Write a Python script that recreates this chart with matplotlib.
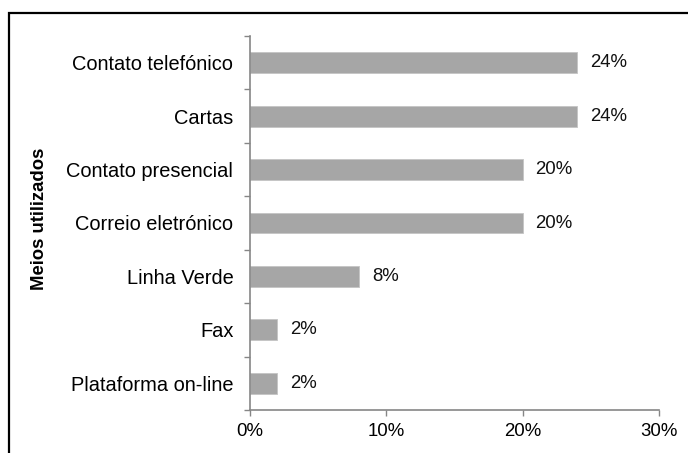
import matplotlib
matplotlib.use("Agg")
import matplotlib.pyplot as plt
from matplotlib.patches import Rectangle
import numpy as np

categories = ["Contato telefónico", "Cartas", "Contato presencial",
              "Correio eletrónico", "Linha Verde", "Fax", "Plataforma on-line"]
values = [24, 24, 20, 20, 8, 2, 2]
xticks = [0, 10, 20, 30]
xtick_labels = ["0%", "10%", "20%", "30%"]
y_title = "Meios utilizados"

plt.rcParams["font.family"] = ["Liberation Sans", "DejaVu Sans"]

W, H = 688, 453
fig = plt.figure(figsize=(W / 100, H / 100), dpi=100)
ax = fig.add_axes([250 / W, 1 - 410 / H, (659 - 250) / W, (410 - 36) / H])

# frame around the chart area
fig.patches.append(Rectangle((9 / W, -0.1), 1.2, 1 - 13 / H + 0.1,
                             transform=fig.transFigure, fill=False,
                             edgecolor="black", linewidth=1.6))

pos = np.arange(len(categories))
ax.barh(pos, values, height=0.39, color="#A6A6A6", edgecolor="#C4C4C4",
        linewidth=0.6, zorder=2)

for p, v in zip(pos, values):
    ax.text(v + 0.95, p, f"{v}%", va="center", ha="left", fontsize=13.4,
            color="#111111")

ax.set_xlim(0, 30)
ax.set_ylim(len(categories) - 0.5, -0.5)
ax.set_xticks(xticks)
ax.set_xticklabels(xtick_labels, fontsize=13.4)

ax.set_yticks(pos)
ax.set_yticklabels(categories, fontsize=14.4)
ax.set_yticks(np.arange(len(categories) + 1) - 0.5, minor=True)
ax.tick_params(axis="y", which="major", length=0, pad=12)
ax.tick_params(axis="y", which="minor", length=4, width=1, color="#868686")
ax.tick_params(axis="x", which="major", length=4, width=1, color="#868686",
               pad=5)

for s in ("top", "right"):
    ax.spines[s].set_visible(False)
for s in ("left", "bottom"):
    ax.spines[s].set_color("#868686")
    ax.spines[s].set_linewidth(1.2)

ax.set_ylabel(y_title, fontsize=13.3, fontweight="bold")
ax.yaxis.set_label_coords(-0.494, 0.51)

fig.savefig("out.png", dpi=100)
